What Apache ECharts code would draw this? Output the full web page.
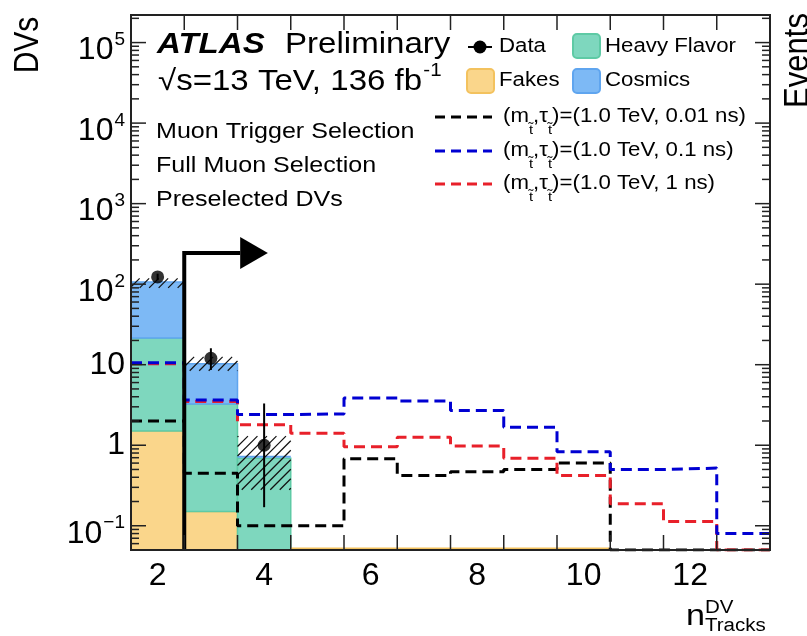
<!DOCTYPE html>
<html>
<head>
<meta charset="utf-8">
<title>DV track multiplicity</title>
<script src="https://cdn.jsdelivr.net/npm/echarts@6/dist/echarts.min.js"></script>
<style>
html, body { margin: 0; padding: 0; background: #fff; }
#chart { width: 807px; height: 636px; }
</style>
</head>
<body>
<div id="chart"></div>
<script>
// Number of tracks per displaced vertex; bins are centred on integers
const trackBins = [2, 3, 4, 5, 6, 7, 8, 9, 10, 11, 12, 13];

// Stacked background estimates per bin
const fakes       = [1.5, 0.15, 0.01, 0.01, 0.01, 0.01, 0.01, 0.01, 0.01, 0, 0, 0];
const heavyFlavor = [20, 3.1, 0.68, 0, 0, 0, 0, 0, 0, 0, 0, 0];
const cosmics     = [85, 7.0, 0.02, 0, 0, 0, 0, 0, 0, 0, 0, 0];

// Total background uncertainty band (lower / upper edge)
const bkgBandLow  = [90, 8.4, 0.28, null, null, null, null, null, null, null, null, null];
const bkgBandHigh = [118, 12.5, 1.3, null, null, null, null, null, null, null, null, null];

// Observed vertices with asymmetric errors
const dataBins    = [2, 3, 4];
const dataCounts  = [123, 12, 1];
const dataErrLow  = [112, 8.6, 0.17];
const dataErrHigh = [135, 16, 3.3];

// Signal expectations, m(stop) = 1.0 TeV
const sigTau001 = [2.0, 0.45, 0.10, 0.10, 0.68, 0.42, 0.47, 0.50, 0.60, 0, 0, 0];
const sigTau01  = [10.6, 3.65, 2.4, 2.45, 3.85, 3.55, 2.7, 1.67, 0.83, 0.50, 0.52, 0.08];
const sigTau1   = [10.3, 3.5, 1.8, 1.41, 0.96, 1.26, 0.98, 0.69, 0.42, 0.187, 0.113, 0];

// Axis labels
const xLabelValues = [2, 4, 6, 8, 10, 12];
const yLabelExponents = [-1, 0, 1, 2, 3, 4, 5];
const yMinorMultipliers = [2, 3, 4, 5, 6, 7, 8, 9];

// Selection cut: n_tracks >= 3
const cutEdge = 2.5;
const cutLevel = 244;
const cutArrowStart = 3.55;
const cutArrowTip = 4.07;

const X_MIN = 1.5, X_MAX = 13.5, Y_MIN = 0.05, Y_MAX = 2.2e5;
const FONT = '"Liberation Sans", Arial, Helvetica, sans-serif';
const SX = 1.14;

const COL = {
  fakes: '#FAD68B', fakesEdge: '#F3C25E',
  hf: '#7ED7BE', hfEdge: '#5ECAA5',
  cos: '#7DB9F5', cosEdge: '#5FA5EF',
  black: '#000000', blue: '#0000D2', red: '#E8202A'
};

function clampY(v) { return Math.min(Math.max(v, Y_MIN), Y_MAX); }

function stepPoints(values) {
  const pts = [];
  trackBins.forEach((b, i) => {
    const v = values[i] > 0 ? clampY(values[i]) : Y_MIN;
    pts.push([b - 0.5, v], [b + 0.5, v]);
  });
  return pts;
}

function renderBackground(params, api) {
  const x = api.value(0);
  const parts = [api.value(1), api.value(2), api.value(3)];
  const fills = [COL.fakes, COL.hf, COL.cos];
  const edges = [COL.fakesEdge, COL.hfEdge, COL.cosEdge];
  const xl = api.coord([x - 0.5, Y_MIN])[0];
  const xr = api.coord([x + 0.5, Y_MIN])[0];
  const children = [];
  let cum = 0;
  parts.forEach((v, k) => {
    if (!(v > 0)) return;
    const lo = cum, hi = cum + v;
    cum = hi;
    const yLo = api.coord([x, lo > 0 ? clampY(lo) : Y_MIN])[1];
    const yHi = api.coord([x, clampY(hi)])[1];
    if (yLo - yHi < 1) {
      children.push({ type: 'line', shape: { x1: xl, y1: yLo - 1.5, x2: xr, y2: yLo - 1.5 },
        style: { stroke: edges[k], lineWidth: 2 } });
    } else {
      children.push({ type: 'rect', shape: { x: xl, y: yHi, width: xr - xl, height: yLo - yHi },
        style: { fill: fills[k], stroke: edges[k], lineWidth: 1.5 } });
    }
  });
  return { type: 'group', children };
}

function renderBand(params, api) {
  const x = api.value(0), lo = api.value(1), hi = api.value(2);
  if (!(hi > 0)) return null;
  const p0 = api.coord([x - 0.5, clampY(hi)]);
  const p1 = api.coord([x + 0.5, clampY(lo)]);
  const x0 = p0[0], y0 = p0[1], x1 = p1[0], y1 = p1[1];
  const step = 9.5;
  const children = [];
  for (let c = Math.ceil((x0 + y0) / step) * step; c <= x1 + y1; c += step) {
    const xa = Math.max(x0, c - y1), xb = Math.min(x1, c - y0);
    if (xb > xa) {
      children.push({ type: 'line', shape: { x1: xa, y1: c - xa, x2: xb, y2: c - xb },
        style: { stroke: '#111', lineWidth: 1.2 } });
    }
  }
  return { type: 'group', children };
}

function renderErrorBar(params, api) {
  const x = api.value(0);
  const a = api.coord([x, clampY(api.value(1))]);
  const b = api.coord([x, clampY(api.value(2))]);
  return { type: 'line', shape: { x1: a[0], y1: a[1], x2: b[0], y2: b[1] },
    style: { stroke: '#000', lineWidth: 2 } };
}

function renderCutArrow(params, api) {
  const base = api.coord([cutEdge, Y_MIN]);
  const corner = api.coord([cutEdge, cutLevel]);
  const headStart = api.coord([cutArrowStart, cutLevel]);
  const tip = api.coord([cutArrowTip, cutLevel]);
  return {
    type: 'group',
    children: [
      { type: 'polyline', shape: { points: [base, corner, headStart] },
        style: { stroke: '#000', lineWidth: 4, fill: null, lineJoin: 'miter' } },
      { type: 'polygon', shape: { points: [[headStart[0], headStart[1] - 16], [tip[0], tip[1]], [headStart[0], headStart[1] + 16]] },
        style: { fill: '#000' } }
    ]
  };
}

function renderFrame(params, api) {
  const cs = params.coordSys;
  const L = cs.x, T = cs.y, R = cs.x + cs.width, B = cs.y + cs.height;
  const children = [];
  const tickStyle = { stroke: '#222', lineWidth: 1.5 };
  for (let d = -2; d <= 5; d++) {
    [1].concat(yMinorMultipliers).forEach(m => {
      const v = m * Math.pow(10, d);
      if (v <= Y_MIN * 1.0001 || v >= Y_MAX) return;
      const y = api.coord([X_MIN, v])[1];
      const len = m === 1 ? 15 : 8;
      children.push({ type: 'line', shape: { x1: L, y1: y, x2: L + len, y2: y }, style: tickStyle });
      children.push({ type: 'line', shape: { x1: R - len, y1: y, x2: R, y2: y }, style: tickStyle });
    });
  }
  trackBins.slice(0, -1).forEach(b => {
    const x = api.coord([b + 0.5, Y_MIN])[0];
    children.push({ type: 'line', shape: { x1: x, y1: B, x2: x, y2: B - 15 }, style: tickStyle });
    children.push({ type: 'line', shape: { x1: x, y1: T, x2: x, y2: T + 15 }, style: tickStyle });
  });
  children.push({ type: 'rect', shape: { x: L, y: T, width: R - L, height: B - T },
    style: { fill: null, stroke: '#222', lineWidth: 2 } });
  return { type: 'group', children };
}

function txt(x, y, text, size, extra) {
  return {
    type: 'text', x, y, scaleX: SX, silent: true,
    style: Object.assign({ text, fontSize: size, fontFamily: FONT, fill: '#000',
      align: 'left', verticalAlign: 'middle' }, extra || {})
  };
}

const sigLegendRich = {
  n: { fontSize: 19.5, fontFamily: FONT, lineHeight: 22, verticalAlign: 'top', fill: '#000' },
  t: { fontSize: 13, fontFamily: FONT, lineHeight: 14, padding: [17, 0, 0, 0], verticalAlign: 'top', fill: '#000' }
};
function sigLegendText(label) {
  return '{n|(m}{t|t\u0303}{n|,\u03c4}{t|t\u0303}{n|)=(1.0 TeV, ' + label + ')}';
}

const legendGraphics = [
  { type: 'line', shape: { x1: 468, y1: 47, x2: 492, y2: 47 }, style: { stroke: '#000', lineWidth: 2 } },
  { type: 'circle', shape: { cx: 480, cy: 47, r: 6.5 }, style: { fill: '#000' } },
  txt(499, 47, 'Data', 19.5),
  { type: 'rect', shape: { x: 573, y: 34, width: 27, height: 24, r: 4 }, style: { fill: COL.hf, stroke: COL.hfEdge, lineWidth: 2 } },
  txt(605, 47, 'Heavy Flavor', 19.5),
  { type: 'rect', shape: { x: 467, y: 69, width: 27, height: 24, r: 4 }, style: { fill: COL.fakes, stroke: COL.fakesEdge, lineWidth: 2 } },
  txt(499, 81, 'Fakes', 19.5),
  { type: 'rect', shape: { x: 573, y: 69, width: 27, height: 24, r: 4 }, style: { fill: COL.cos, stroke: COL.cosEdge, lineWidth: 2 } },
  txt(605, 81, 'Cosmics', 19.5),
  { type: 'line', shape: { x1: 435, y1: 117, x2: 492, y2: 117 }, style: { stroke: COL.black, lineWidth: 3, lineDash: [10, 6] } },
  txt(503, 107, sigLegendText('0.01 ns'), 19.5, { rich: sigLegendRich, verticalAlign: 'top' }),
  { type: 'line', shape: { x1: 435, y1: 151, x2: 492, y2: 151 }, style: { stroke: COL.blue, lineWidth: 3, lineDash: [10, 6] } },
  txt(503, 141, sigLegendText('0.1 ns'), 19.5, { rich: sigLegendRich, verticalAlign: 'top' }),
  { type: 'line', shape: { x1: 435, y1: 184, x2: 492, y2: 184 }, style: { stroke: COL.red, lineWidth: 3, lineDash: [10, 6] } },
  txt(503, 174, sigLegendText('1 ns'), 19.5, { rich: sigLegendRich, verticalAlign: 'top' })
];

const labelGraphics = [
  txt(157, 45, 'ATLAS', 29, { fontWeight: 'bold', fontStyle: 'italic' }),
  txt(285, 45, 'Preliminary', 29),
  txt(158, 57.5, '{m|\u221As=13 TeV, 136 fb}{p|-1}', 29, {
    verticalAlign: 'top',
    rich: {
      m: { fontSize: 29, fontFamily: FONT, lineHeight: 29, padding: [10, 0, 0, 0], verticalAlign: 'top', fill: '#000' },
      p: { fontSize: 18, fontFamily: FONT, lineHeight: 18, padding: [5, 0, 0, 1], verticalAlign: 'top', fill: '#000' }
    }
  }),
  txt(156, 131.5, 'Muon Trigger Selection', 22),
  txt(156, 166, 'Full Muon Selection', 22),
  txt(156, 200, 'Preselected DVs', 22),
  // axis titles
  { type: 'text', x: 28.5, y: 45, rotation: Math.PI / 2, scaleY: SX, silent: true,
    style: { text: 'DVs', fontSize: 30, fontFamily: FONT, fill: '#000', align: 'center', verticalAlign: 'middle' } },
  txt(686, 616.5, 'n', 30),
  txt(705, 608, 'DV', 18),
  txt(705, 626.5, 'Tracks', 18),
  { type: 'text', x: 798, y: 60.5, rotation: Math.PI / 2, scaleY: SX, silent: true,
    style: { text: 'Events', fontSize: 31, fontFamily: FONT, fill: '#000', align: 'center', verticalAlign: 'middle' } }
];

const chart = echarts.init(document.getElementById('chart'), null, { renderer: 'canvas' });

chart.setOption({
  animation: false,
  backgroundColor: '#ffffff',
  grid: { left: 131, right: 37, top: 15, bottom: 86, containLabel: false, outerBoundsMode: 'none' },
  xAxis: {
    type: 'value', min: X_MIN, max: X_MAX,
    axisLine: { show: false }, axisTick: { show: false }, splitLine: { show: false },
    axisLabel: {
      margin: 10, fontSize: 32, fontFamily: FONT, color: '#000',
      formatter: v => (xLabelValues.indexOf(v) >= 0 ? String(v) : '')
    }
  },
  yAxis: {
    type: 'log', logBase: 10, min: Y_MIN, max: Y_MAX,
    axisLine: { show: false }, axisTick: { show: false }, splitLine: { show: false },
    axisLabel: {
      margin: 6, fontSize: 32, fontFamily: FONT, color: '#000',
      formatter: v => {
        const lg = Math.log10(v);
        const e = Math.round(lg);
        if (Math.abs(lg - e) > 1e-6 || yLabelExponents.indexOf(e) < 0) return '';
        if (e === 0) return '1';
        if (e === 1) return '10';
        return '{b|10}{s|' + (e < 0 ? '\u2212' + (-e) : e) + '}';
      },
      rich: {
        b: { fontSize: 32, fontFamily: FONT, color: '#000', lineHeight: 32, padding: [8, 0, 0, 0], verticalAlign: 'top' },
        s: { fontSize: 19, fontFamily: FONT, color: '#000', lineHeight: 19, padding: [4, 0, 0, 1], verticalAlign: 'top' }
      }
    }
  },
  series: [
    {
      name: 'Background', type: 'custom', z: 2, silent: true,
      renderItem: renderBackground,
      data: trackBins.map((b, i) => [b, fakes[i], heavyFlavor[i], cosmics[i]])
    },
    {
      name: 'Background uncertainty', type: 'custom', z: 3, silent: true,
      renderItem: renderBand,
      data: trackBins.map((b, i) => [b, bkgBandLow[i] || 0, bkgBandHigh[i] || 0])
    },
    {
      name: '0.01 ns', type: 'line', z: 4, silent: true, symbol: 'none',
      data: stepPoints(sigTau001),
      lineStyle: { color: COL.black, width: 3, type: [11, 6] }
    },
    {
      name: '1 ns', type: 'line', z: 4, silent: true, symbol: 'none',
      data: stepPoints(sigTau1),
      lineStyle: { color: COL.red, width: 3, type: [11, 6] }
    },
    {
      name: '0.1 ns', type: 'line', z: 4, silent: true, symbol: 'none',
      data: stepPoints(sigTau01),
      lineStyle: { color: COL.blue, width: 3, type: [11, 6] }
    },
    {
      name: 'Cut', type: 'custom', z: 5, silent: true,
      renderItem: renderCutArrow,
      data: [[cutEdge, cutLevel]]
    },
    {
      name: 'Data errors', type: 'custom', z: 6, silent: true,
      renderItem: renderErrorBar,
      data: dataBins.map((b, i) => [b, dataErrLow[i], dataErrHigh[i]])
    },
    {
      name: 'Data', type: 'scatter', z: 7, silent: true,
      symbol: 'circle', symbolSize: 13,
      itemStyle: { color: '#000' },
      data: dataBins.map((b, i) => [b, dataCounts[i]])
    },
    {
      name: 'Frame', type: 'custom', z: 10, silent: true,
      renderItem: renderFrame,
      data: [[X_MIN, Y_MIN]]
    }
  ],
  graphic: legendGraphics.concat(labelGraphics)
});
</script>
</body>
</html>
